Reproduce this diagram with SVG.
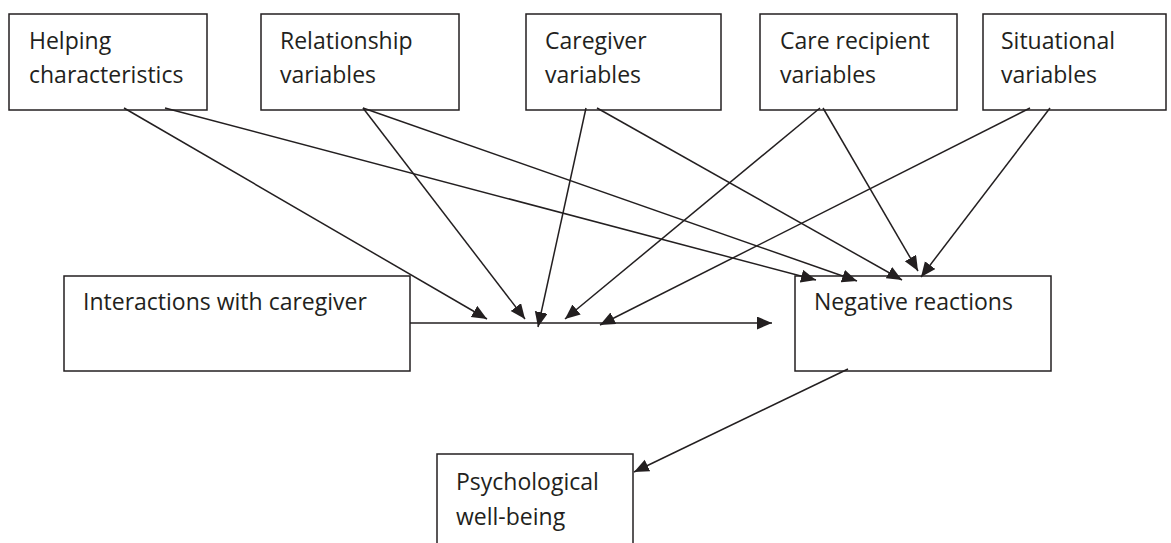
<svg xmlns="http://www.w3.org/2000/svg" width="1171" height="543" viewBox="0 0 1171 543">
<style>
.box{fill:#fff;stroke:#231f20;stroke-width:1.5}
.t{font-family:"Open Sans","Noto Sans","Liberation Sans",sans-serif;font-size:23px;fill:#231f20}
.c{stroke:#231f20;stroke-width:1.5;fill:none;marker-end:url(#ah)}
</style>
<defs>
<marker id="ah" markerUnits="userSpaceOnUse" markerWidth="16" markerHeight="14" refX="15" refY="6.5" orient="auto" viewBox="0 0 16 14">
<path d="M0,0 L15,6.5 L0,13 z" fill="#231f20"/>
</marker>
</defs>
<rect width="1171" height="543" fill="#fff"/>
<g id="helping"><rect class="box" x="9" y="14" width="198" height="96"/><text class="t" x="29" y="49">Helping</text><text class="t" x="29" y="83">characteristics</text></g>
<g id="relationship"><rect class="box" x="261" y="14" width="198" height="96"/><text class="t" x="280" y="49">Relationship</text><text class="t" x="280" y="83">variables</text></g>
<g id="caregiver"><rect class="box" x="526" y="14" width="195" height="96"/><text class="t" x="545" y="49">Caregiver</text><text class="t" x="545" y="83">variables</text></g>
<g id="recipient"><rect class="box" x="760" y="14" width="197" height="96"/><text class="t" x="780" y="49">Care recipient</text><text class="t" x="780" y="83">variables</text></g>
<g id="situational"><rect class="box" x="983" y="14" width="183" height="96"/><text class="t" x="1001" y="49">Situational</text><text class="t" x="1001" y="83">variables</text></g>
<g id="interactions"><rect class="box" x="64" y="276" width="346" height="95"/><text class="t" x="83" y="310">Interactions with caregiver</text></g>
<g id="negative"><rect class="box" x="795" y="276" width="256" height="95"/><text class="t" x="814" y="310">Negative reactions</text></g>
<g id="wellbeing"><rect class="box" x="437" y="454" width="196" height="100"/><text class="t" x="456" y="490">Psychological</text><text class="t" x="456" y="525">well-being</text></g>
<g id="connectors">
<line class="c" x1="124" y1="108" x2="487" y2="319"/>
<line class="c" x1="165" y1="108" x2="816" y2="280"/>
<line class="c" x1="363" y1="108" x2="525" y2="319"/>
<line class="c" x1="363" y1="108" x2="857" y2="281"/>
<line class="c" x1="586" y1="108" x2="538" y2="327"/>
<line class="c" x1="597" y1="108" x2="902" y2="280"/>
<line class="c" x1="820" y1="108" x2="565" y2="319"/>
<line class="c" x1="823" y1="108" x2="918" y2="271"/>
<line class="c" x1="1030" y1="108" x2="600" y2="325"/>
<line class="c" x1="1050" y1="108" x2="921" y2="277"/>
<line class="c" x1="410" y1="323" x2="772" y2="323"/>
<line class="c" x1="848" y1="369" x2="634" y2="472"/>
</g>
</svg>
